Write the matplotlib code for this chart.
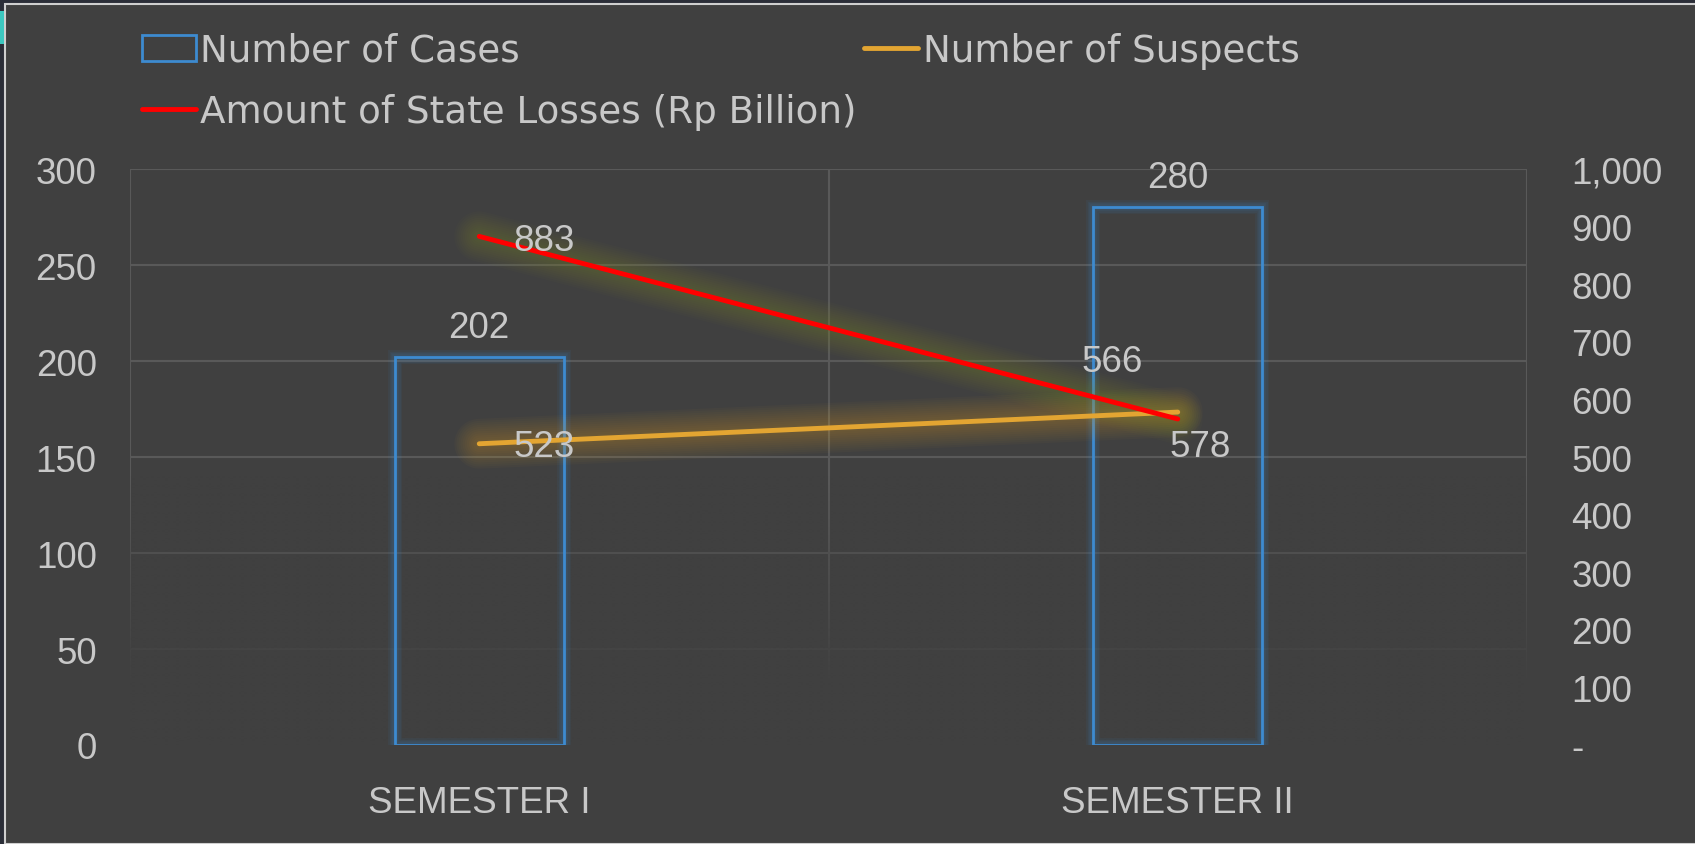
import numpy as np
import matplotlib.pyplot as plt
from matplotlib.patches import Rectangle

plt.rcParams['font.family'] = ['Liberation Sans', 'DejaVu Sans']

# chart data
categories = ["SEMESTER I", "SEMESTER II"]
cases = [202, 280]
suspects = [523, 578]
losses = [883, 566]

left_ticks = [0, 50, 100, 150, 200, 250, 300]
right_ticks = [0, 100, 200, 300, 400, 500, 600, 700, 800, 900, 1000]

BG = '#404040'
TXT = '#c8c8c8'
GRID = '#595959'
BLUE = '#3d8bd0'
ORANGE = '#e3a532'
RED = '#ff0000'
FS = 26.5

fig = plt.figure(figsize=(16.95, 8.45), dpi=100, facecolor='#2b2e38')
# chart frame
fig.patches.append(Rectangle((5 / 1695, 0), 1, 1 - 5 / 845, transform=fig.transFigure,
                             facecolor=BG, edgecolor='#cfcfcf', linewidth=1.5, zorder=-5))
fig.patches.append(Rectangle((0, 1 - 45 / 845), 4 / 1695, 33 / 845, transform=fig.transFigure,
                             facecolor='#3cc8c0', edgecolor='none', zorder=-4))

ax = fig.add_axes([130 / 1695, 1 - 746 / 845, 1397 / 1695, 576 / 845])
ax.set_facecolor('none')
x = np.arange(len(categories))
ax.set_xlim(-0.5, 1.5)
ax.set_ylim(0, 300)

# gridlines (fading towards the bottom)
for t in left_ticks[1:]:
    ax.axhline(t, color=GRID, lw=1.5, zorder=0.3)
for v in [-0.5, 0.5, 1.5]:
    ax.axvline(v, color=GRID, lw=1.5, zorder=0.3)
fade = np.zeros((100, 2, 4))
fade[..., :3] = np.array([0x40, 0x40, 0x40]) / 255
ys = np.linspace(0, 300, 100)
fade[..., 3] = np.clip((140 - ys) / 110, 0, 1)[:, None]
ax.imshow(fade, extent=(-0.5, 1.5, 0, 300), origin='lower', aspect='auto', zorder=0.5,
          interpolation='bilinear')

# bars with glow
bw = 0.242
for w in range(10, 2, -2):
    ax.bar(x, cases, width=bw, facecolor='none', edgecolor=BLUE, linewidth=w, alpha=0.07, zorder=1.5)
bars = ax.bar(x, cases, width=bw, facecolor='none', edgecolor=BLUE, linewidth=2, zorder=2,
              label='Number of Cases')
for xi, v in zip(x, cases):
    ax.annotate(str(v), (xi, v), xytext=(0, 30), textcoords='offset pixels',
                ha='center', va='center', color=TXT, fontsize=FS, zorder=6)

ax.set_yticks(left_ticks)
ax.set_yticklabels([str(t) for t in left_ticks])
ax.set_xticks(x)
ax.set_xticklabels(categories)
ax.tick_params(axis='y', length=0, pad=24, labelsize=FS, labelcolor=TXT)
ax.tick_params(axis='x', length=0, pad=29, labelsize=FS, labelcolor=TXT)
for s in ax.spines.values():
    s.set_visible(False)

ax2 = ax.twinx()
ax2.set_ylim(0, 1000)
ax2.set_yticks(right_ticks)
ax2.set_yticklabels(['-' if t == 0 else f'{t:,}' for t in right_ticks])
ax2.tick_params(axis='y', length=0, pad=32, labelsize=FS, labelcolor=TXT)
for s in ax2.spines.values():
    s.set_visible(False)

# lines with soft glow
for w in range(36, 4, -3):
    ax2.plot(x, suspects, color=ORANGE, lw=w, alpha=0.03, solid_capstyle='round', zorder=3)
    ax2.plot(x, losses, color='#8a9a2a', lw=w, alpha=0.03, solid_capstyle='round', zorder=3)
l_sus, = ax2.plot(x, suspects, color=ORANGE, lw=3.5, solid_capstyle='round', zorder=4,
                  label='Number of Suspects')
l_los, = ax2.plot(x, losses, color=RED, lw=3.5, solid_capstyle='round', zorder=4,
                  label='Amount of State Losses (Rp Billion)')

sus_off = [(65, -3), (22, -34)]
los_off = [(65, -4), (-66, 57)]
for xi, v, off in zip(x, suspects, sus_off):
    ax2.annotate(str(v), (xi, v), xytext=off, textcoords='offset pixels',
                 ha='center', va='center', color=TXT, fontsize=FS, zorder=6)
for xi, v, off in zip(x, losses, los_off):
    ax2.annotate(str(v), (xi, v), xytext=off, textcoords='offset pixels',
                 ha='center', va='center', color=TXT, fontsize=FS, zorder=6)

leg = fig.legend([bars, l_los, l_sus],
                 ['Number of Cases', 'Amount of State Losses (Rp Billion)', 'Number of Suspects'],
                 ncol=2, loc='upper left', bbox_to_anchor=(142 / 1695, 1 - 33 / 845),
                 frameon=False, prop={'family': 'DejaVu Sans', 'size': 26.8}, labelcolor=TXT,
                 handlelength=1.45, handletextpad=0.12, columnspacing=0.2, labelspacing=0.64,
                 borderaxespad=0, borderpad=0)
for h in leg.legend_handles:
    h.set_alpha(1)

fig.savefig('out.png', dpi=100, facecolor=fig.get_facecolor())
